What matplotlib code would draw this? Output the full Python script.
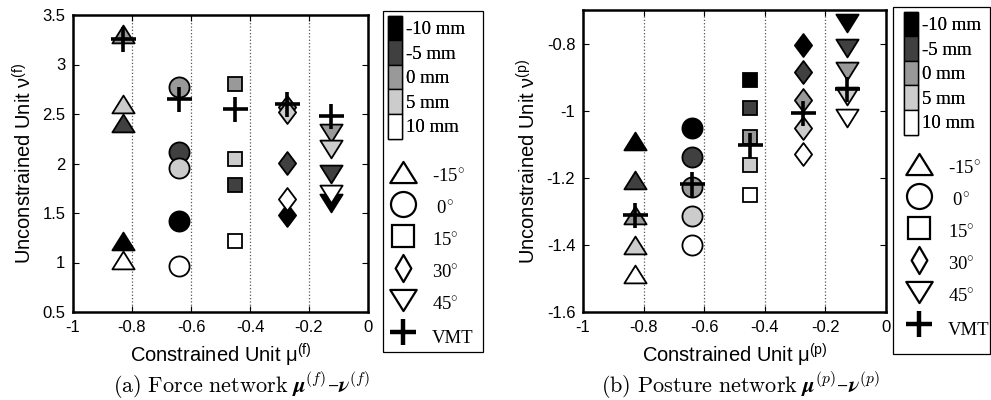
import numpy as np
import matplotlib.pyplot as plt
from matplotlib.lines import Line2D
from matplotlib.patches import Patch, Rectangle
from matplotlib.path import Path
from matplotlib.ticker import FuncFormatter

plt.rcParams['font.family'] = ['Liberation Sans', 'DejaVu Sans']
plt.rcParams['mathtext.fontset'] = 'custom'
plt.rcParams['mathtext.rm'] = 'Liberation Sans'
plt.rcParams['mathtext.it'] = 'Liberation Sans:italic'
plt.rcParams['axes.unicode_minus'] = False

# data
angles = ['-15', ' 0', '15', '30', '45']
distances = ['-10 mm', '-5 mm', '0 mm', '5 mm', '10 mm']
gray_levels = ['#000000', '#404040', '#999999', '#cccccc', '#ffffff']

# force network: one list per distance, one value per angle
mu_force = [-0.83, -0.64, -0.45, -0.275, -0.125]
nu_force_m10 = [1.22, 1.42, np.nan, 1.48, 1.60]
nu_force_m5 = [2.41, 2.12, 1.78, 2.01, 1.89]
nu_force_0 = [3.31, 2.77, 2.80, 2.57, 2.31]
nu_force_p5 = [2.60, 1.95, 2.05, 2.52, 2.15]
nu_force_p10 = [1.03, 0.96, 1.22, 1.64, 1.69]
vmt_force = [3.26, 2.65, 2.55, 2.60, 2.48]

# posture network
mu_posture = [-0.83, -0.64, -0.45, -0.275, -0.128]
nu_posture_m10 = [-1.089, -1.051, -0.908, -0.805, -0.738]
nu_posture_m5 = [-1.208, -1.139, -0.992, -0.886, -0.812]
nu_posture_0 = [-1.312, -1.228, -1.077, -0.967, -0.881]
nu_posture_p5 = [-1.401, -1.315, -1.161, -1.051, -0.955]
nu_posture_p10 = [-1.487, -1.399, -1.250, -1.129, -1.022]
vmt_posture = [-1.31, -1.218, -1.102, -1.008, -0.934]

nu_force = [nu_force_m10, nu_force_m5, nu_force_0, nu_force_p5, nu_force_p10]
nu_posture = [nu_posture_m10, nu_posture_m5, nu_posture_0, nu_posture_p5, nu_posture_p10]


def poly(pts):
    return Path(pts + [pts[0]], [Path.MOVETO] + [Path.LINETO] * (len(pts) - 1) + [Path.CLOSEPOLY])


# matlab-like marker shapes
tri_up = poly([(-1, -0.8), (1, -0.8), (0, 0.8)])
tri_down = poly([(-1, 0.8), (1, 0.8), (0, -0.8)])
diamond = poly([(0, 1), (0.75, 0), (0, -1), (-0.75, 0)])
diamond_thin = poly([(0, 1), (0.58, 0), (0, -1), (-0.58, 0)])
markers = [tri_up, 'o', 's', diamond, tri_down]
msizes = [16, 14.5, 10, 16.5, 16]

fmt = FuncFormatter(lambda v, p: '%g' % round(v, 6))


def draw_panel(ax, mu, nu, vmt, ylim, yticks, tag):
    for i in range(len(distances)):
        for j in range(len(angles)):
            ax.plot(mu[j], nu[i][j], ls='none', marker=markers[j], ms=msizes[j],
                    mfc=gray_levels[i], mec='black', mew=1.3, zorder=3)
    ax.plot(mu, vmt, ls='none', marker='+', ms=18, mew=2.6, color='black', zorder=5)
    ax.set_xlim(-1, 0)
    ax.set_ylim(*ylim)
    ax.set_xticks([-1, -0.8, -0.6, -0.4, -0.2, 0])
    ax.set_yticks(yticks)
    ax.xaxis.set_major_formatter(fmt)
    ax.yaxis.set_major_formatter(fmt)
    ax.tick_params(direction='in', top=True, right=True, length=4, width=0.8,
                   labelsize=12, pad=5.5)
    ax.grid(axis='x', ls=':', color='#555555', lw=0.9)
    for s in ax.spines.values():
        s.set_linewidth(1.8)
    ax.set_xlabel('Constrained Unit μ$^{(\\mathrm{%s})}$' % tag, fontsize=14.5, labelpad=5)
    ax.set_ylabel('Unconstrained Unit ν$^{(\\mathrm{%s})}$' % tag, fontsize=14.5, labelpad=5)


fig = plt.figure(figsize=(9.91, 4.0), dpi=100)
ax1 = fig.add_axes([73 / 991, 88 / 400, 295 / 991, 297 / 400])
ax2 = fig.add_axes([583 / 991, 88 / 400, 303 / 991, 302 / 400])

draw_panel(ax1, mu_force, nu_force, vmt_force, (0.5, 3.5), [0.5, 1, 1.5, 2, 2.5, 3, 3.5], 'f')
draw_panel(ax2, mu_posture, nu_posture, vmt_posture, (-1.6, -0.7), [-1.6, -1.4, -1.2, -1, -0.8], 'p')

cap_a = fig.text(241 / 991, 7.5 / 400,
                 r'$\mathrm{(a)\ Force\ network}\ \boldsymbol{\mu}^{(f)}$–$\boldsymbol{\nu}^{(f)}$',
                 ha='center', va='baseline', fontsize=16, math_fontfamily='cm',
                 family=['DejaVu Serif'])
cap_b = fig.text(740 / 991, 7.5 / 400,
                 r'$\mathrm{(b)\ Posture\ network}\ \boldsymbol{\mu}^{(p)}$–$\boldsymbol{\nu}^{(p)}$',
                 ha='center', va='baseline', fontsize=16, math_fontfamily='cm',
                 family=['DejaVu Serif'])

# legends
patch_handles = [Patch(facecolor=c, edgecolor='black', lw=1) for c in gray_levels]
leg_markers = [tri_up, 'o', 's', diamond_thin, tri_down]
leg_sizes = [19, 18, 16, 19.5, 19]
mark_handles = [Line2D([], [], ls='none', marker=m, ms=s, mfc='white', mec='black', mew=1.6)
                for m, s in zip(leg_markers, leg_sizes)]
mark_handles.append(Line2D([], [], ls='none', marker='+', ms=19, mew=3.2, color='black'))
mark_labels = ['%s$^{\\circ}$' % a for a in angles] + ['VMT']

for x0, x1, ytop, ybot, dx, mk_top in [(383, 483, 11, 352, 1, 157), (893, 990, 7, 354, 7, 149)]:
    lg1 = fig.legend(patch_handles, distances, loc='upper left',
                     bbox_to_anchor=((x0 + dx) / 991, 1 - (ytop + 1) / 400),
                     frameon=False, prop={'family': 'Liberation Serif', 'size': 13.5},
                     handlelength=0.75, handleheight=1.64, labelspacing=0, handletextpad=0.25,
                     borderpad=0.2, borderaxespad=0)
    lg2 = fig.legend(mark_handles, mark_labels, loc='upper left',
                     bbox_to_anchor=((x0 + dx + 2) / 991, 1 - mk_top / 400),
                     frameon=False, prop={'family': 'Liberation Serif', 'size': 13.5},
                     handlelength=1.45, handleheight=2.25, labelspacing=0, handletextpad=0.8,
                     borderpad=0.2, borderaxespad=0)
    fig.add_artist(lg1)
    fig.add_artist(Rectangle((x0 / 991, 1 - ybot / 400), (x1 - x0) / 991, (ybot - ytop) / 400,
                             transform=fig.transFigure, fill=False, lw=0.9, ec='black'))

try:
    fig.savefig('out.png', dpi=100)
except Exception:
    cap_a.set_text(r'$\mathrm{(a)\ Force\ network}\ \mu^{(f)}$–$\nu^{(f)}$')
    cap_b.set_text(r'$\mathrm{(b)\ Posture\ network}\ \mu^{(p)}$–$\nu^{(p)}$')
    fig.savefig('out.png', dpi=100)
